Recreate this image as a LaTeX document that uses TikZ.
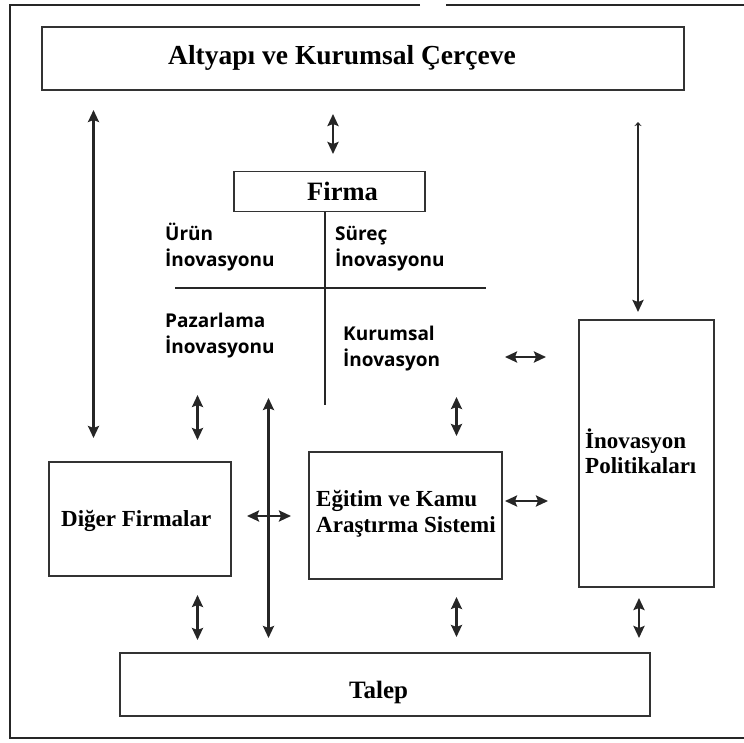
\documentclass[tikz,border=0pt]{standalone}
\usepackage{fontspec}
\setmainfont{Liberation Serif}
\newfontfamily\osans{Open Sans}
\usetikzlibrary{arrows.meta}
\begin{document}
\begin{tikzpicture}[x=1pt,y=-1pt,
  box/.style={draw=black!80, line width=1.6pt, inner sep=0pt},
  bt/.style={font=\bfseries, inner sep=0pt, anchor=base west},
  st/.style={font=\fontsize{19}{26}\selectfont\osans\bfseries, inner sep=0pt, anchor=base west},
  dar/.style={{Stealth[length=12pt,width=11pt,inset=2pt]}-{Stealth[length=12pt,width=11pt,inset=2pt]}, line width=2.4pt, black!85},
  frame/.style={line width=2.6pt, black!85}]
\useasboundingbox (0,0) rectangle (744,742);
% outer frame
\coordinate (f1) at (420,5);
\coordinate (f0) at (10,5);
\coordinate (f2) at (10,738);
\coordinate (f3) at (744,738);
\coordinate (f4) at (446,5);
\coordinate (f5) at (744,5);
\draw[frame] (f1) -- (f0) -- (f2) -- (f3);
\draw[frame] (f4) -- (f5);
% boxes
\node[box, minimum width=642pt, minimum height=63pt] (alt) at (363,58.5) {};
\node[box, minimum width=191pt, minimum height=40pt] (firma) at (329.5,191.5) {};
\node[box, minimum width=182pt, minimum height=114pt] (diger) at (140,519) {};
\node[box, minimum width=193pt, minimum height=127pt] (egitim) at (405.5,515.5) {};
\node[box, minimum width=135pt, minimum height=267pt] (pol) at (646.5,453.5) {};
\node[box, minimum width=530pt, minimum height=63pt] (talep) at (385,684.5) {};
% box texts
\node[bt, font=\fontsize{27.5}{30}\selectfont\bfseries] (altT) at (168,64) {Altyapı ve Kurumsal Çerçeve};
\node[bt, font=\fontsize{26.5}{30}\selectfont\bfseries] (firmaT) at (307,200) {Firma};
\node[bt, font=\fontsize{23}{27}\selectfont\bfseries] (digerT) at (61,526) {Diğer Firmalar};
\node[bt, font=\fontsize{23}{27}\selectfont\bfseries] (egT1) at (316,506) {Eğitim ve Kamu};
\node[bt, font=\fontsize{23}{27}\selectfont\bfseries] (egT2) at (316,532) {Araştırma Sistemi};
\node[bt, font=\fontsize{23}{27}\selectfont\bfseries] (polT1) at (585,448) {İnovasyon};
\node[bt, font=\fontsize{23}{27}\selectfont\bfseries] (polT2) at (585,473) {Politikaları};
\node[bt, font=\fontsize{25}{30}\selectfont\bfseries] (talepT) at (349,698) {Talep};
% firm quadrants
\coordinate (vb) at (325,405);
\coordinate (hl) at (175,288);
\coordinate (hr) at (486,288);
\draw[line width=1.4pt, black!85] (firma.south -| vb) -- (vb);
\draw[line width=1.4pt, black!85] (hl) -- (hr);
\node[st] (u1) at (165,240) {Ürün};
\node[st] (u2) at (165,266) {İnovasyonu};
\node[st] (s1) at (335,240) {Süreç};
\node[st] (s2) at (335,266) {İnovasyonu};
\node[st] (p1) at (165,327) {Pazarlama};
\node[st] (p2) at (165,353) {İnovasyonu};
\node[st] (k1) at (343,340) {Kurumsal};
\node[st] (k2) at (343,366) {İnovasyon};
% arrow end points
\coordinate (a1t) at (333,114); \coordinate (a1b) at (333,154);
\coordinate (a2t) at (93.5,110); \coordinate (a2b) at (93.5,438);
\coordinate (a3t) at (638,122); \coordinate (a3b) at (638,312);
\coordinate (a4l) at (505,357); \coordinate (a4r) at (546,357);
\coordinate (a5t) at (197.5,395); \coordinate (a5b) at (197.5,440);
\coordinate (a6t) at (456.5,397); \coordinate (a6b) at (456.5,436);
\coordinate (a7t) at (268.5,398); \coordinate (a7b) at (268.5,638);
\coordinate (a8l) at (247,516); \coordinate (a8r) at (291,516);
\coordinate (a9l) at (505,501); \coordinate (a9r) at (548,501);
\coordinate (b1t) at (197.5,595); \coordinate (b1b) at (197.5,640);
\coordinate (b2t) at (456.5,597); \coordinate (b2b) at (456.5,637);
\coordinate (b3t) at (639,598); \coordinate (b3b) at (639,638);
\draw[dar] (a1t) -- (a1b);
\draw[dar] (a2t) -- (a2b);
\draw[line width=2.4pt, black!85, {Stealth[length=4pt,width=7pt]}-{Stealth[length=12pt,width=11pt,inset=2pt]}] (a3t) -- (a3b);
\draw[dar] (a4l) -- (a4r);
\draw[dar] (a5t) -- (a5b);
\draw[dar] (a6t) -- (a6b);
\draw[dar] (a7t) -- (a7b);
\draw[dar] (a8l) -- (a8r);
\draw[dar] (a9l) -- (a9r);
\draw[dar] (b1t) -- (b1b);
\draw[dar] (b2t) -- (b2b);
\draw[dar] (b3t) -- (b3b);
\end{tikzpicture}
\end{document}
